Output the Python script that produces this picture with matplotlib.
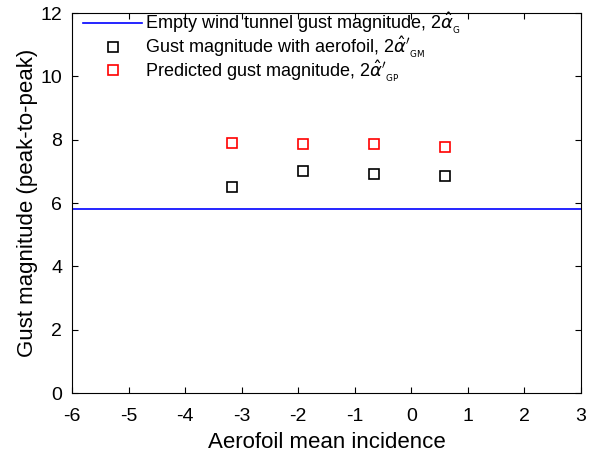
import numpy as np
import matplotlib
matplotlib.use('Agg')
import matplotlib.pyplot as plt

plt.rcParams['font.family'] = ['Liberation Sans', 'DejaVu Sans']
plt.rcParams['mathtext.fontset'] = 'dejavusans'
plt.rcParams['axes.unicode_minus'] = False

incidence = [-3.17, -1.91, -0.66, 0.60]
gust_aerofoil = [6.51, 7.01, 6.92, 6.85]
gust_predicted = [7.90, 7.87, 7.85, 7.76]
gust_empty = 5.8

fig = plt.figure(figsize=(5.97, 4.61), dpi=100)
ax = fig.add_axes([72/597, 1 - 393/461, 509/597, 380/461])

ax.axhline(gust_empty, color='#0000ff', lw=1.2,
           label=r'Empty wind tunnel gust magnitude, 2$\hat{\alpha}_{_{\rm G}}$')
ax.plot(incidence, gust_aerofoil, 's', mfc='none', mec='black', ms=7, mew=1.2,
        label=r"Gust magnitude with aerofoil, 2$\hat{\alpha}'_{_{\rm GM}}$")
ax.plot(incidence, gust_predicted, 's', mfc='none', mec='#ff0000', ms=7, mew=1.2,
        label=r"Predicted gust magnitude, 2$\hat{\alpha}'_{_{\rm GP}}$")

ax.set_xlim(-6, 3)
ax.set_ylim(0, 12)
ax.set_xticks(np.arange(-6, 4, 1))
ax.set_yticks(np.arange(0, 13, 2))
ax.tick_params(direction='in', top=True, right=True, labelsize=14, length=4, pad=7)
ax.tick_params(axis='x', pad=11)
ax.set_xlabel('Aerofoil mean incidence', fontsize=16, labelpad=5)
ax.set_ylabel('Gust magnitude (peak-to-peak)', fontsize=16, labelpad=2)

ax.legend(loc='upper left', bbox_to_anchor=(0.0, 1.035), frameon=False, fontsize=13,
          handlelength=3.3, handletextpad=0.15, labelspacing=-0.12, borderaxespad=0.2)

fig.savefig('out.png', dpi=100)
